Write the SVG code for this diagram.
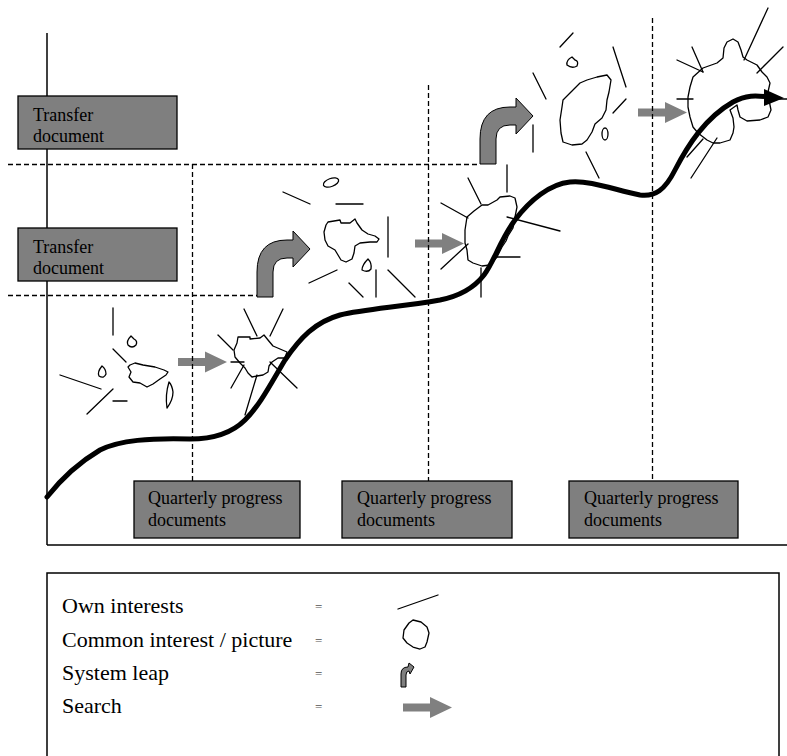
<svg xmlns="http://www.w3.org/2000/svg" width="787" height="756" viewBox="0 0 787 756">
  <style>
    .box { fill: #7f7f7f; stroke: #000; stroke-width: 1.3; }
    .btxt { font-family: "Liberation Serif", "Times New Roman", serif; font-size: 18px; fill: #000; }
    .ltxt { font-family: "Liberation Serif", "Times New Roman", serif; font-size: 22px; fill: #000; }
    .eq { font-family: "Liberation Serif", "Times New Roman", serif; font-size: 13px; fill: #555; }
    .ray { stroke: #000; stroke-width: 1.3; fill: none; stroke-linecap: round; }
    .blob { fill: none; stroke: #000; stroke-width: 1.3; stroke-linejoin: round; }
    .dash { stroke: #000; stroke-width: 1.3; stroke-dasharray: 5 3; fill: none; }
    .axis { stroke: #000; stroke-width: 1.5; fill: none; }
    .search { fill: #808080; }
    .leap { fill: #7f7f7f; stroke: #000; stroke-width: 1; stroke-linejoin: round; }
  </style>
  <defs>
    <!-- search arrow, origin at left end of the shaft centre line -->
    <path id="searchArrow" d="M0,-4 L27,-4 L27,-10.5 L49,0 L27,10.5 L27,4 L0,4 Z"/>
    <!-- system leap arrow, origin at bottom-left corner of the shaft -->
    <path id="leapArrow" d="M0,0 L0,-25 Q0,-57 30,-57 L36,-57 L36,-66 L53,-48 L36,-30 L36,-39 L30,-39 Q16,-39 16,-25 L16,0 Z"/>
  </defs>

  <rect width="787" height="756" fill="#fff"/>

  <!-- axes and guide lines -->
  <g id="connectors">
    <line class="axis" x1="47" y1="33" x2="47" y2="545"/>
    <line class="axis" x1="47" y1="545" x2="787" y2="545" stroke-width="2"/>
    <line class="dash" x1="8" y1="164.5" x2="480" y2="164.5" stroke-dasharray="6 4"/>
    <line class="dash" x1="8" y1="295.5" x2="257" y2="295.5" stroke-dasharray="6 4"/>
  </g>

  <!-- transfer document boxes -->
  <g id="transfer-1">
    <rect class="box" x="18" y="96" width="159" height="53"/>
    <text class="btxt" x="33" y="121">Transfer</text>
    <text class="btxt" x="33" y="142">document</text>
  </g>
  <g id="transfer-2">
    <rect class="box" x="18" y="228" width="159" height="53"/>
    <text class="btxt" x="33" y="253">Transfer</text>
    <text class="btxt" x="33" y="274">document</text>
  </g>

  <!-- quarterly progress boxes -->
  <g id="quarterly-1">
    <rect class="box" x="134" y="481" width="166" height="57"/>
    <text class="btxt" x="148" y="504">Quarterly progress</text>
    <text class="btxt" x="148" y="526">documents</text>
  </g>
  <g id="quarterly-2">
    <rect class="box" x="342" y="481" width="170" height="57"/>
    <text class="btxt" x="357" y="504">Quarterly progress</text>
    <text class="btxt" x="357" y="526">documents</text>
  </g>
  <g id="quarterly-3">
    <rect class="box" x="569" y="481" width="169" height="57"/>
    <text class="btxt" x="584" y="504">Quarterly progress</text>
    <text class="btxt" x="584" y="526">documents</text>
  </g>

  <!-- stage 1: scattered interests -->
  <g id="stage-1">
    <line class="ray" x1="113" y1="308" x2="113" y2="335"/>
    <line class="ray" x1="113" y1="349" x2="126" y2="362"/>
    <line class="ray" x1="60" y1="375" x2="101" y2="389"/>
    <line class="ray" x1="87" y1="414" x2="113" y2="389"/>
    <line class="ray" x1="113" y1="401" x2="127" y2="401"/>
    <path class="blob" d="M131,336 Q126,341 128,345 Q132,349 136,345 Q138,341 134,339 Z"/>
    <path class="blob" d="M102,366 Q97,372 99,376 Q104,379 106,374 Q106,369 102,366 Z"/>
    <path class="blob" d="M169,382 Q165,395 167,408 Q173,400 173,392 Q172,385 169,382 Z"/>
    <polygon class="blob" points="130,365 135,363 143,365 155,367 164,370 168,372 166,375 160,379 153,384 147,387 140,383 133,382 129,377 131,372 128,367"/>
  </g>
  <g id="search-1"><use href="#searchArrow" class="search" x="178" y="362"/></g>

  <!-- stage 2: first common picture -->
  <g id="stage-2">
    <line class="ray" x1="244" y1="309" x2="257" y2="336"/>
    <line class="ray" x1="283" y1="309" x2="270" y2="336"/>
    <line class="ray" x1="218" y1="335" x2="233" y2="350"/>
    <line class="ray" x1="231" y1="362" x2="244" y2="362"/>
    <line class="ray" x1="244" y1="365" x2="231" y2="388"/>
    <line class="ray" x1="257" y1="375" x2="245" y2="415"/>
    <line class="ray" x1="270" y1="362" x2="297" y2="388"/>
    <polygon class="blob" points="238,337 250,337 250,339 260,338 264,335 268,340 273,346 280,349 287,352 285,358 278,358 272,362 269,366 268,372 263,375 257,376 252,377 248,373 245,368 240,363 235,357 234,350 237,343"/>
  </g>
  <g id="leap-1"><use href="#leapArrow" class="leap" x="257" y="297"/></g>

  <!-- stage 3 -->
  <g id="stage-3">
    <ellipse class="blob" cx="331" cy="182.5" rx="8" ry="4" transform="rotate(-20 331 182.5)"/>
    <line class="ray" x1="283" y1="192" x2="310" y2="204"/>
    <line class="ray" x1="336" y1="204" x2="363" y2="204"/>
    <line class="ray" x1="388" y1="217" x2="388" y2="257"/>
    <line class="ray" x1="309" y1="283" x2="337" y2="270"/>
    <line class="ray" x1="349" y1="283" x2="363" y2="297"/>
    <line class="ray" x1="376" y1="270" x2="376" y2="297"/>
    <line class="ray" x1="388" y1="270" x2="415" y2="297"/>
    <polygon class="blob" points="328,222 340,220 341,223 350,223 355,219 357,223 362,230 368,234 375,236 379,239 377,242 370,242 360,243 355,246 354,253 352,259 346,262 341,260 338,255 335,250 328,246 325,240 324,232 326,225"/>
    <path class="blob" d="M368,259 Q362,265 362,270 Q368,273 371,269 Q372,263 368,259 Z"/>
  </g>
  <g id="search-2"><use href="#searchArrow" class="search" x="415" y="243.5"/></g>

  <!-- stage 4 -->
  <g id="stage-4">
    <line class="ray" x1="507" y1="165" x2="507" y2="192"/>
    <line class="ray" x1="468" y1="178" x2="481" y2="204"/>
    <line class="ray" x1="441" y1="203" x2="468" y2="218"/>
    <line class="ray" x1="507" y1="217" x2="560" y2="231"/>
    <line class="ray" x1="468" y1="244" x2="441" y2="269"/>
    <line class="ray" x1="497" y1="257" x2="520" y2="257"/>
    <line class="ray" x1="481" y1="268" x2="481" y2="297"/>
    <polygon class="blob" points="467,217 474,211 482,205 488,205 497,200 500,197 510,196 515,198 517,207 515,217 513,228 508,236 506,241 502,247 497,257 490,265 482,266 473,263 468,260 467,250 465,243 465,230"/>
  </g>
  <g id="leap-2"><use href="#leapArrow" class="leap" x="480" y="164"/></g>

  <!-- stage 5 -->
  <g id="stage-5">
    <line class="ray" x1="533" y1="125" x2="533" y2="152"/>
    <line class="ray" x1="560" y1="47" x2="573" y2="33"/>
    <line class="ray" x1="533" y1="73" x2="546" y2="99"/>
    <line class="ray" x1="613" y1="47" x2="626" y2="87"/>
    <line class="ray" x1="626" y1="99" x2="613" y2="113"/>
    <line class="ray" x1="586" y1="152" x2="599" y2="178"/>
    <path class="blob" d="M572,57 Q566,60 567,65 Q572,69 577,66 Q579,61 575,60 Q573,58 572,57 Z"/>
    <ellipse class="blob" cx="605" cy="134" rx="3" ry="6"/>
    <polygon class="blob" points="580,83 587,80 597,77 607,75 611,80 609,92 607,100 606,110 602,118 595,124 592,132 587,140 582,144 572,145 563,142 561,133 560,120 562,107 563,100 570,93 575,88"/>
  </g>
  <g id="search-3"><use href="#searchArrow" class="search" x="638" y="112.5"/></g>

  <!-- stage 6 -->
  <g id="stage-6">
    <line class="ray" x1="677" y1="60" x2="703" y2="72"/>
    <line class="ray" x1="692" y1="47" x2="703" y2="72"/>
    <line class="ray" x1="677" y1="99" x2="693" y2="99"/>
    <line class="ray" x1="768" y1="8" x2="744" y2="60"/>
    <line class="ray" x1="783" y1="47" x2="757" y2="73"/>
    <line class="ray" x1="765" y1="99" x2="787" y2="99"/>
    <line class="ray" x1="717" y1="138" x2="691" y2="178"/>
    <line class="ray" x1="703" y1="139" x2="687" y2="157"/>
    <polygon class="blob" points="693,77 703,68 717,63 723,58 724,48 727,42 733,39 738,42 741,50 743,57 747,60 757,65 762,72 767,77 770,83 768,92 769,100 771,110 768,117 760,120 747,121 740,117 738,110 737,105 730,110 733,118 734,127 733,133 730,140 720,143 713,143 707,140 698,133 693,127 690,117 688,107 688,97 690,87"/>
  </g>

  <!-- quarter dividers -->
  <g id="dividers">
    <line class="dash" x1="192.5" y1="164" x2="192.5" y2="481"/>
    <line class="dash" x1="428.5" y1="85" x2="428.5" y2="481"/>
    <line class="dash" x1="652.5" y1="18" x2="652.5" y2="481"/>
  </g>

  <!-- development curve -->
  <g id="development-curve">
    <path d="M47,497 C62,478 78,463 100,450 C120,440 150,438 190,439 C215,439 232,433 245,420 C260,405 270,385 285,360 C300,338 315,322 340,315 C365,309 400,307 440,300 C460,296 474,288 484,275 C494,262 500,240 515,220 C530,200 550,184 570,182 C590,180 615,190 640,195 C655,197 665,190 675,170 C688,145 705,118 733,102 C748,94 758,96 770,97" fill="none" stroke="#000" stroke-width="5" stroke-linecap="round"/>
    <polygon points="764,89 784,98 764,106" fill="#000"/>
  </g>

  <!-- legend -->
  <g id="legend">
    <rect x="47" y="573" width="732" height="200" fill="none" stroke="#000" stroke-width="1.5"/>
    <text class="ltxt" x="62" y="613">Own interests</text>
    <text class="ltxt" x="62" y="647">Common interest / picture</text>
    <text class="ltxt" x="62" y="680">System leap</text>
    <text class="ltxt" x="62" y="713">Search</text>
    <text class="eq" x="315" y="611">=</text>
    <text class="eq" x="315" y="645">=</text>
    <text class="eq" x="315" y="678">=</text>
    <text class="eq" x="315" y="711">=</text>
    <line class="ray" x1="398" y1="609" x2="438" y2="595"/>
    <polygon class="blob" points="413,620 421,622 427,627 429,633 427,642 425,647 420,649 413,647 407,643 403,638 404,630 409,623"/>
    <path class="leap" d="M401,687 L401,674 Q401,667 408,667 L409,663 L414,667 L410,674 L409,671 Q406,671 406,675 L406,687 Z"/>
    <use href="#searchArrow" class="search" x="403" y="707.5"/>
  </g>
</svg>
